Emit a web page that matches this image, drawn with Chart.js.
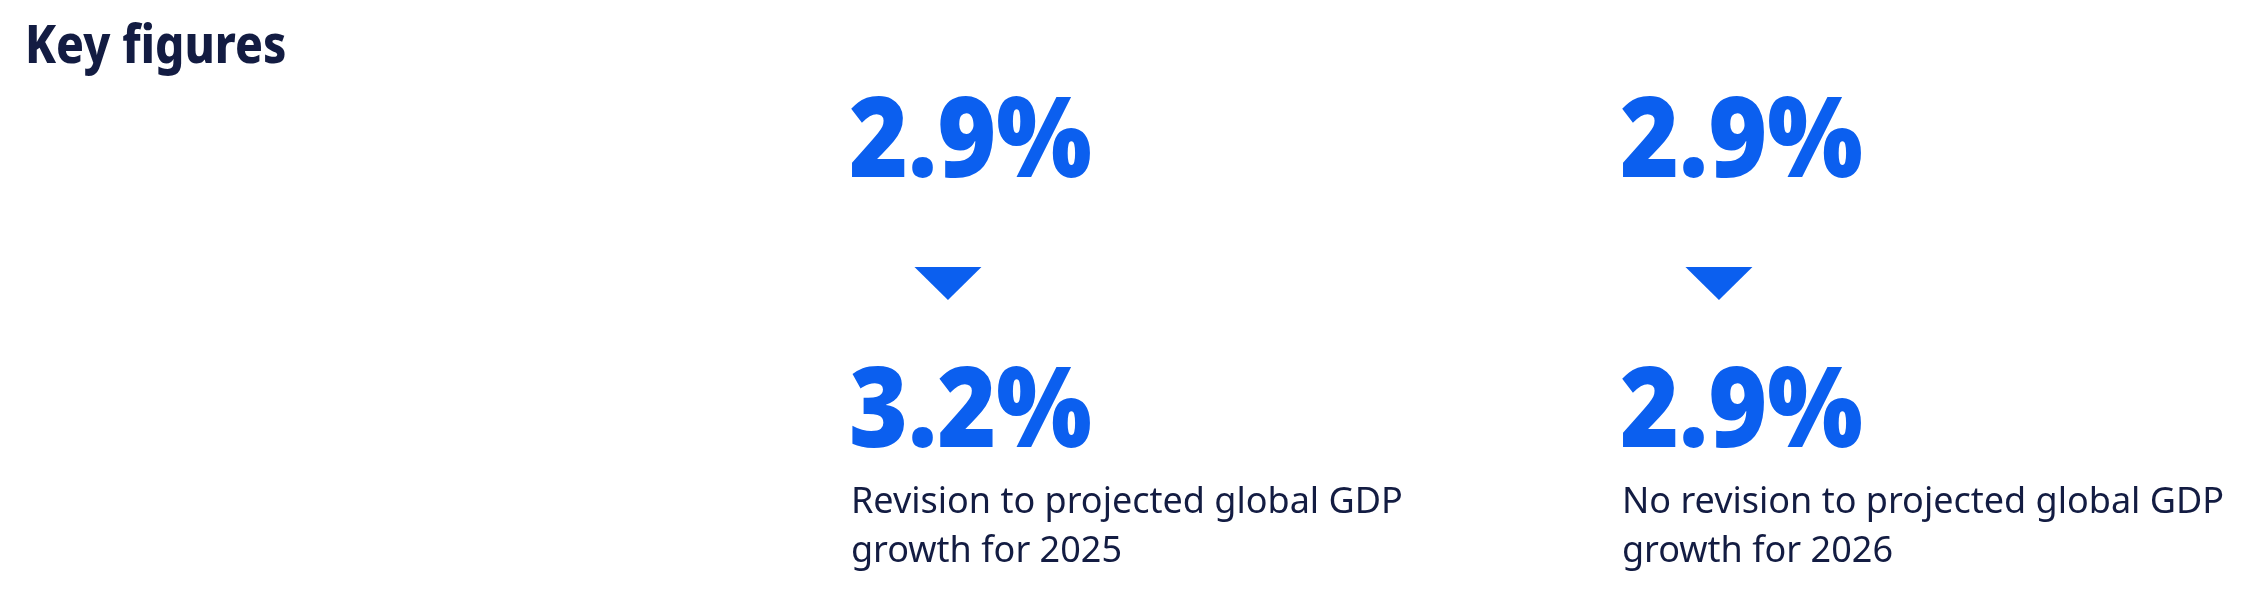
<!DOCTYPE html>
<html>
<head>
<meta charset="utf-8">
<script src="https://cdn.jsdelivr.net/npm/chart.js@4.4.1/dist/chart.umd.min.js"></script>
<style>
  html, body { margin: 0; padding: 0; background: #ffffff; }
  #wrap { width: 2244px; height: 602px; position: relative; }
</style>
</head>
<body>
<div id="wrap"><canvas id="c"></canvas></div>
<script>
// ---- data ----
const titleText = "Key figures";
const categories = ["2025", "2026"];
const previousProjection = [2.9, 2.9];
const revisedProjection = [3.2, 2.9];
const descriptions = [
  "Revision to projected global GDP growth for 2025",
  "No revision to projected global GDP growth for 2026"
];

// ---- styles ----
const BLUE = "#0b5fef";
const NAVY = "#131c42";
const TITLE_FONT = "800 53px 'Noto Sans'";
const NUM_FONT = "900 112px 'Noto Sans'";
const DESC_FONT = "400 36px 'Noto Sans'";
const TITLE_SQUEEZE = 0.87;
const NUM_SQUEEZE = 0.90;

function fmt(v) { return v.toFixed(1) + "%"; }

function wrap(ctx, text, maxW) {
  const words = text.split(" ");
  const lines = [];
  let cur = "";
  for (const w of words) {
    const t = cur ? cur + " " + w : w;
    if (ctx.measureText(t).width > maxW && cur) { lines.push(cur); cur = w; }
    else cur = t;
  }
  if (cur) lines.push(cur);
  return lines;
}

function squeezedText(ctx, text, x, y, sx) {
  ctx.save();
  ctx.translate(x, y);
  ctx.scale(sx, 1);
  ctx.fillText(text, 0, 0);
  ctx.restore();
}

const keyFigures = {
  id: "keyFigures",
  afterDraw(chart) {
    const ctx = chart.ctx;
    const xs = chart.scales.x;
    ctx.save();
    ctx.textAlign = "left";
    ctx.textBaseline = "alphabetic";
    // title
    ctx.font = TITLE_FONT;
    ctx.fillStyle = NAVY;
    squeezedText(ctx, titleText, 25, 63, TITLE_SQUEEZE);

    categories.forEach((cat, i) => {
      const x0 = xs.getPixelForValue(i);
      // previous projection
      ctx.font = NUM_FONT;
      ctx.fillStyle = BLUE;
      squeezedText(ctx, fmt(previousProjection[i]), x0 - 2, 177, NUM_SQUEEZE);
      // down arrow
      const cx = x0 + 97, half = 33.5, top = 267, h = 33;
      ctx.beginPath();
      ctx.moveTo(cx - half, top);
      ctx.lineTo(cx + half, top);
      ctx.lineTo(cx, top + h);
      ctx.closePath();
      ctx.fill();
      // revised projection
      squeezedText(ctx, fmt(revisedProjection[i]), x0 - 2, 447, NUM_SQUEEZE);
      // description
      ctx.font = DESC_FONT;
      ctx.fillStyle = NAVY;
      const lines = wrap(ctx, descriptions[i], 640);
      lines.forEach((ln, k) => ctx.fillText(ln, x0, 513 + k * 49));
    });
    ctx.restore();
  }
};

new Chart(document.getElementById("c"), {
  type: "scatter",
  data: {
    datasets: [{
      label: "Revised projection",
      data: revisedProjection.map((v, i) => ({ x: i, y: v })),
      pointRadius: 0,
      pointHoverRadius: 0
    }]
  },
  options: {
    responsive: true,
    maintainAspectRatio: false,
    animation: false,
    events: [],
    layout: { padding: { left: 27, right: 0, top: 80, bottom: 0 } },
    scales: {
      x: { type: "linear", display: false, min: -1.0687, max: 1.8068 },
      y: { type: "linear", display: false, min: 0, max: 5 }
    },
    plugins: {
      legend: { display: false },
      tooltip: { enabled: false },
      title: { display: false }
    }
  },
  plugins: [keyFigures]
});
</script>
</body>
</html>
